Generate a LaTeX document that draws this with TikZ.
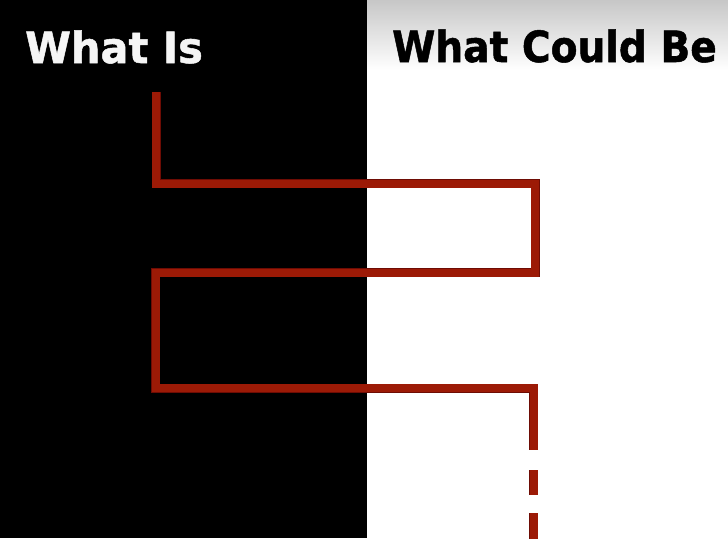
\documentclass[tikz,border=0pt]{standalone}
\usepackage{fontspec}
\setmainfont{DejaVu Sans}
\newfontfamily\headfont{DejaVu Sans Bold}[FakeBold=1.2]
\usepackage{xcolor}
\definecolor{pathred}{RGB}{156,26,6}
\definecolor{pathedge}{RGB}{110,12,4}
\tikzset{
  redline/.style={draw=pathred, line width=8pt, line join=miter},
  edgeline/.style={draw=pathedge, line width=9pt, line join=miter},
  heading/.style={font=\headfont\bfseries\fontsize{43}{50}\selectfont, inner sep=0pt, anchor=base west, transform shape}
}
\begin{document}
\begin{tikzpicture}[x=1pt,y=-1pt]
\useasboundingbox (0,0) rectangle (728,538);
\fill[black] (0,0) rectangle (366.5,538);
\fill[white] (366.5,0) rectangle (728,538);
% grey fade at the top of the white half
\foreach \i in {0,...,69}{
  \pgfmathsetmacro{\shadeamt}{22*(1-\i/70)}
  \fill[black!\shadeamt] (366.5,\i) rectangle (728,\i+1.05);
}
\node[heading, text=white!96!black, xscale=0.965] (whatis) at (25,63) {What Is};
\node[heading, text=black, xscale=0.91] (couldbe) at (392,62) {What Could Be};
% the path
\coordinate (start) at (156,92);
\coordinate (turnA) at (156,183.5);
\coordinate (turnB) at (535,183.5);
\coordinate (turnC) at (535,272.5);
\coordinate (turnD) at (155.5,272.5);
\coordinate (turnE) at (155.5,388);
\coordinate (turnF) at (533.5,388);
\coordinate (stop) at (533.5,450);
\foreach \s in {edgeline,redline}{
  \draw[\s] (start) -- (turnA) -- (turnB) -- (turnC) -- (turnD) -- (turnE) -- (turnF) -- (stop);
  \draw[\s] (533.5,470) -- (533.5,495);
  \draw[\s] (533.5,513) -- (533.5,545);
}
\end{tikzpicture}
\end{document}
